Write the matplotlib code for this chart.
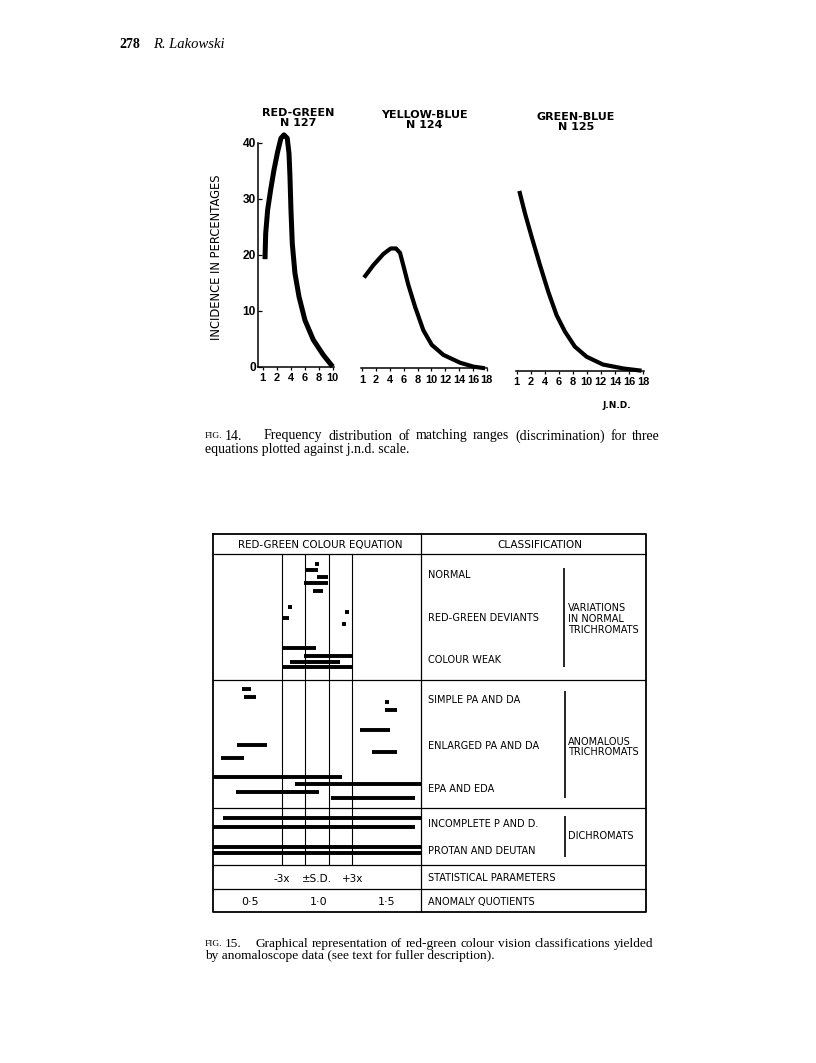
import matplotlib
matplotlib.use("Agg")
import matplotlib.pyplot as plt

# ---------------- Fig. 14 : incidence (%) against j.n.d. scale position
rg_x = [0.33, 0.43, 0.71, 1.14, 1.61, 2.14, 2.61, 3.04, 3.51, 3.76, 3.9, 4.04,
        4.23, 4.61, 5.19, 6.04, 7.23, 8.66, 10.0]
rg_y = [19.2, 23.8, 28.0, 31.6, 35.1, 38.4, 40.8, 41.4, 40.8, 38.1, 33.9, 28.0,
        22.0, 16.7, 12.5, 8.3, 4.8, 2.1, 0.0]

yb_x = [0.25, 1.59, 3.04, 4.11, 4.88, 5.46, 5.93, 6.66, 7.63, 8.83, 10.04,
        11.72, 14.14, 16.06, 17.76]
yb_y = [16.2, 18.4, 20.4, 21.4, 21.4, 20.6, 18.4, 14.9, 11.0, 6.8, 4.2,
        2.4, 1.0, 0.3, 0.0]

gb_x = [0.37, 1.18, 2.13, 3.31, 4.5, 5.69, 6.87, 8.29, 9.96, 12.3, 15.2, 17.8]
gb_y = [32.1, 28.1, 23.9, 18.9, 14.1, 9.9, 7.0, 4.3, 2.5, 1.1, 0.4, 0.0]

short_ticks = [0, 2, 4, 6, 8, 10]
short_labels = ['1', '2', '4', '6', '8', '10']
long_ticks = [0, 2, 4, 6, 8, 10, 12, 14, 16, 18]
long_labels = ['1', '2', '4', '6', '8', '10', '12', '14', '16', '18']
pct_ticks = [0, 10, 20, 30, 40]

panel_titles = ['RED-GREEN\nN 127', 'YELLOW-BLUE\nN 124', 'GREEN-BLUE\nN 125']

# ---------------- Fig. 15 : matching ranges as anomaly quotients (start, end, row)
normal_start = [0.974, 0.901, 0.991, 0.896, 0.962, 0.781, 0.739, 1.193, 1.172,
                0.731, 0.896, 0.792, 0.731]
normal_end = [1.0, 0.999, 1.072, 1.072, 1.035, 0.803, 0.787, 1.219, 1.201,
              0.980, 1.247, 1.157, 1.247]
normal_row = [10, 16, 23, 29.3, 37, 52.7, 64, 57.7, 70, 94.3, 101.7, 107.7, 113.3]

anom_start = [0.439, 0.458, 1.485, 1.485, 1.303, 0.403, 1.388, 0.286, 0.232,
              0.828, 0.398, 1.089]
anom_end = [0.505, 0.542, 1.511, 1.575, 1.522, 0.622, 1.571, 0.456, 1.169,
            1.748, 1.006, 1.704]
anom_row = [135.3, 142.7, 148.3, 156, 176, 191, 197.7, 204.3, 222.7, 230.3,
            237.7, 244.3]

dichro_start = [0.305, 0.232, 0.232, 0.232]
dichro_end = [1.748, 1.704, 1.748, 1.748]
dichro_row = [264.3, 272.7, 292.7, 299.3]

aq_mean = 0.989
aq_sd = 0.086
aq_labels = ['0·5', '1·0', '1·5']
aq_values = [0.5, 1.0, 1.5]

class_names = ['NORMAL', 'RED-GREEN DEVIANTS', 'COLOUR WEAK',
               'SIMPLE PA AND DA', 'ENLARGED PA AND DA', 'EPA AND EDA',
               'INCOMPLETE P AND D.', 'PROTAN AND DEUTAN']
group_names = ['VARIATIONS\nIN NORMAL\nTRICHROMATS', 'ANOMALOUS\nTRICHROMATS',
               'DICHROMATS']

cap14 = ['Frequency distribution of matching ranges (discrimination) for three',
         'equations plotted against j.n.d. scale.']
cap15 = ['Graphical representation of red-green colour vision classifications yielded',
         'by anomaloscope data (see text for fuller description).']

# ---------------- figure
W, H = 816, 1063
fig = plt.figure(figsize=(W / 100, H / 100), dpi=100)
plt.rcParams['font.family'] = ['DejaVu Sans']
serif = 'Liberation Serif'


def px_axes(x0, y0, x1, y1):
    return fig.add_axes([x0 / W, 1 - y1 / H, (x1 - x0) / W, (y1 - y0) / H])


page = px_axes(0, 0, W, H)
page.set_xlim(0, W)
page.set_ylim(H, 0)
page.axis('off')
renderer = fig.canvas.get_renderer()


def justify(x0, x1, y, line, size):
    # spread the words of one caption line between x0 and x1
    words = line.split()
    widths = []
    for w in words:
        t = page.text(0, 0, w, fontsize=size, family=serif)
        widths.append(t.get_window_extent(renderer).width)
        t.remove()
    gap = (x1 - x0 - sum(widths)) / (len(words) - 1)
    x = x0
    for w, wd in zip(words, widths):
        page.text(x, y, w, fontsize=size, family=serif, va='center')
        x += wd + gap


# page header
page.text(119, 45, '278', fontsize=10, fontweight='bold', family=serif,
          va='center')
page.text(153, 45, 'R. Lakowski', fontsize=10.5, style='italic',
          family=serif, va='center')

# ---- fig 14 panels
ppu = 5.6  # px per percent


def curve_panel(x0, x1, base, xlim, ticks, labels, xs, ys, lw, yaxis=False):
    ax = px_axes(x0, base - 42 * ppu, x1, base)
    ax.plot(xs, ys, color='black', lw=lw, solid_capstyle='butt',
            solid_joinstyle='round', clip_on=False)
    ax.set_xlim(*xlim)
    ax.set_ylim(0, 42)
    ax.patch.set_visible(False)
    for s in ['top', 'right']:
        ax.spines[s].set_visible(False)
    ax.spines['bottom'].set_linewidth(1.1)
    ax.set_xticks(ticks)
    ax.set_xticklabels(labels, fontsize=7.9, fontweight='bold',
                       family='Liberation Sans')
    ax.tick_params(axis='x', direction='out', length=2.5, width=0.9, pad=2)
    if yaxis:
        ax.spines['left'].set_bounds(0, 40)
        ax.spines['left'].set_linewidth(1.1)
        ax.set_yticks(pct_ticks)
        ax.set_yticklabels([str(t) for t in pct_ticks], fontsize=8.6,
                           fontweight='bold', family='Liberation Sans')
        ax.tick_params(axis='y', direction='in', length=3, width=0.9, pad=1)
    else:
        ax.spines['left'].set_visible(False)
        ax.set_yticks([])
    return ax


curve_panel(257.5, 334, 366.7, (-0.74, 10.19), short_ticks, short_labels,
            rg_x, rg_y, 3.6, yaxis=True)
curve_panel(360.7, 487, 368.3, (-0.23, 18.04), long_ticks, long_labels,
            yb_x, yb_y, 3.0)
curve_panel(516, 644, 370.7, (-0.1, 18.15), long_ticks, long_labels,
            gb_x, gb_y, 3.0)

for cx, cy, t in zip([298, 424, 576], [118, 120, 122], panel_titles):
    page.text(cx, cy, t, ha='center', va='center', fontsize=8,
              fontweight='bold', linespacing=0.95)

page.text(216, 257, 'INCIDENCE IN PERCENTAGES', rotation=90, ha='center',
          va='center', fontsize=8.3)
page.text(617, 406, 'J.N.D.', ha='center', va='center', fontsize=6.5,
          fontweight='bold')

page.text(205, 436, 'FIG.', fontsize=6.8, family=serif, va='center')
page.text(225, 436, '14.', fontsize=10, family=serif, va='center')
justify(264, 660, 436, cap14[0], 10)
page.text(205, 449, cap14[1], fontsize=10, family=serif, va='center')

# ---- fig 15 table frame
tl, tr, tt, tb, tmid = 213, 646, 534, 912, 421
page.plot([tl, tr, tr, tl, tl], [tt, tt, tb, tb, tt], color='black', lw=1.3)
page.hlines([554, 680, 808, 865, 889], tl, tr, color='black', lw=0.9)
page.vlines(tmid, tt, tb, color='black', lw=0.9)

page.text(320, 545, 'RED-GREEN COLOUR EQUATION', ha='center', va='center',
          fontsize=7.4)
page.text(540, 545, 'CLASSIFICATION', ha='center', va='center', fontsize=7.6)

class_y = [575, 618, 660, 700, 746, 789, 824, 851]
for y, t in zip(class_y, class_names):
    page.text(428, y, t, va='center', fontsize=7)
page.vlines([564, 565, 565], [568, 691, 816], [667, 798, 857], color='black',
            lw=1.2)
for y, t in zip([619, 747, 836], group_names):
    page.text(568, y, t, va='center', fontsize=7, linespacing=1.1)

page.text(428, 878, 'STATISTICAL PARAMETERS', va='center', fontsize=7)
page.text(428, 902, 'ANOMALY QUOTIENTS', va='center', fontsize=7)

# ---- ranges on anomaly quotient scale
eq = px_axes(tl, 554, tmid, 865)
eq.set_xlim(0.23, 1.748)
eq.set_ylim(311, 0)
eq.axis('off')

sd_lines = [aq_mean - 3 * aq_sd, aq_mean - aq_sd, aq_mean + aq_sd, aq_mean + 3 * aq_sd]
eq.vlines(sd_lines, 0, 311, color='black', lw=0.8)

for st, en, rw in [(normal_start, normal_end, normal_row),
                   (anom_start, anom_end, anom_row),
                   (dichro_start, dichro_end, dichro_row)]:
    lc = eq.hlines(rw, st, en, color='black', lw=2.8)
    lc.set_capstyle('butt')

for xv, t in zip([aq_mean - 3 * aq_sd, aq_mean, aq_mean + 3 * aq_sd],
                 ['-3x', '±S.D.', '+3x']):
    eq.text(xv, 325, t, ha='center', va='center', fontsize=7.5, clip_on=False)
for xv, t in zip(aq_values, aq_labels):
    eq.text(xv, 348, t, ha='center', va='center', fontsize=8, clip_on=False)

page.text(205, 944, 'FIG.', fontsize=6.8, family=serif, va='center')
page.text(225, 944, '15.', fontsize=9.6, family=serif, va='center')
justify(255, 653, 944, cap15[0], 9.6)
page.text(205, 956, cap15[1], fontsize=9.6, family=serif, va='center')

fig.savefig('out.png', dpi=100)
